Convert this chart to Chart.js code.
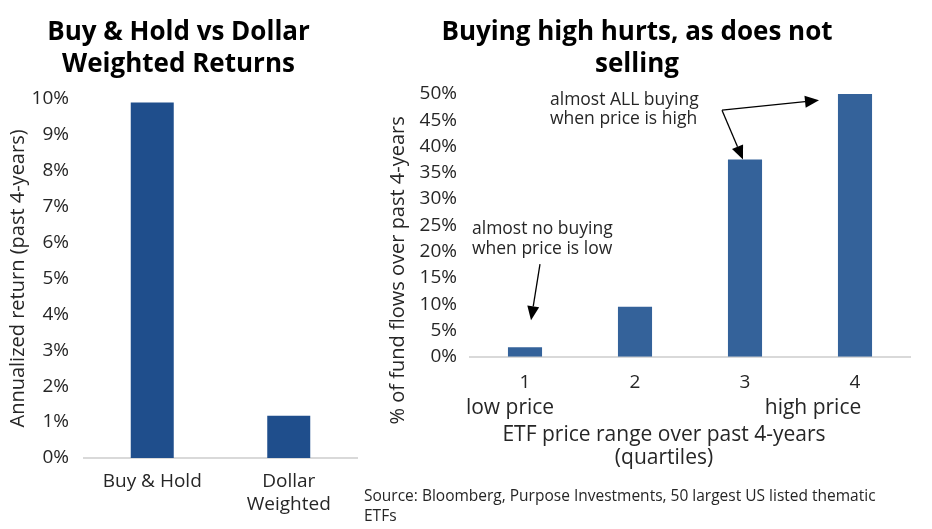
<!DOCTYPE html>
<html>
<head>
<meta charset="utf-8">
<script src="https://cdn.jsdelivr.net/npm/chart.js@4.4.1/dist/chart.umd.min.js"></script>
<style>
  body { margin: 0; background: #fff; }
  #left { position: absolute; left: 0; top: 0; width: 362px; height: 529px; }
  #right { position: absolute; left: 360px; top: 0; width: 572px; height: 529px; }
</style>
</head>
<body>
<div id="left"><canvas id="returnsChart"></canvas></div>
<div id="right"><canvas id="flowsChart"></canvas></div>
<script>
// ================= DATA =================
const returnLabels = [["Buy & Hold"], ["Dollar", "Weighted"]];
const returnValues = [9.9, 1.18];
const returnTicks = [0, 1, 2, 3, 4, 5, 6, 7, 8, 9, 10];

const quartileLabels = ["1", "2", "3", "4"];
const flowValues = [1.8, 9.5, 37.5, 50];
const flowTicks = [0, 5, 10, 15, 20, 25, 30, 35, 40, 45, 50];

const sourceLines = [
  "Source: Bloomberg, Purpose Investments, 50 largest US listed thematic",
  "ETFs"
];

Chart.defaults.font.family = "'Open Sans', sans-serif";
Chart.defaults.color = "#262626";

// ================= ARROWS =================
function drawArrow(ctx, x1, y1, x2, y2) {
  const a = Math.atan2(y2 - y1, x2 - x1);
  const head = 14, half = 6;
  const bx = x2 - head * Math.cos(a);
  const by = y2 - head * Math.sin(a);
  ctx.beginPath();
  ctx.moveTo(x1, y1);
  ctx.lineTo(bx, by);
  ctx.stroke();
  ctx.beginPath();
  ctx.moveTo(x2, y2);
  ctx.lineTo(bx + half * Math.sin(a), by - half * Math.cos(a));
  ctx.lineTo(bx - half * Math.sin(a), by + half * Math.cos(a));
  ctx.closePath();
  ctx.fill();
}

// notes, side labels and axis titles for the right chart
const flowNotes = {
  id: "flowNotes",
  afterDraw(chart) {
    const { ctx, chartArea } = chart;
    const x = chart.scales.x, y = chart.scales.y;
    ctx.save();
    ctx.fillStyle = "#262626";
    ctx.strokeStyle = "#000";
    ctx.lineWidth = 1.3;
    ctx.textBaseline = "middle";

    // y title
    ctx.save();
    ctx.translate(chartArea.left - 72, (chartArea.top + chartArea.bottom) / 2 + 45);
    ctx.rotate(-Math.PI / 2);
    ctx.font = "20px 'Open Sans'";
    ctx.textAlign = "center";
    ctx.fillText("% of fund flows over past 4-years", 0, 0);
    ctx.restore();

    // low / high price under the ticks, then the x title
    ctx.font = "21px 'Open Sans'";
    ctx.textAlign = "center";
    ctx.fillText("low price", x.getPixelForValue(0) - 15, chartArea.bottom + 51);
    ctx.fillText("high price", x.getPixelForValue(3) - 42, chartArea.bottom + 51);
    const titleX = (x.getPixelForValue(1) + x.getPixelForValue(2)) / 2 - 26;
    ctx.fillText("ETF price range over past 4-years", titleX, chartArea.bottom + 78);
    ctx.fillText("(quartiles)", titleX, chartArea.bottom + 101);

    // annotations
    ctx.font = "17.5px 'Open Sans'";
    ctx.textAlign = "left";
    const lowX = x.getPixelForValue(0) - 53;
    ctx.fillText("almost no buying", lowX, y.getPixelForValue(24.3));
    ctx.fillText("when price is low", lowX, y.getPixelForValue(20.5));
    const highX = x.getPixelForValue(1) - 85;
    ctx.fillText("almost ALL buying", highX, y.getPixelForValue(48.8));
    ctx.fillText("when price is high", highX, y.getPixelForValue(45.2));

    ctx.fillStyle = "#000";
    drawArrow(ctx, x.getPixelForValue(0) + 15, y.getPixelForValue(17.6),
      x.getPixelForValue(0) + 6, y.getPixelForValue(flowValues[0]) - 27);
    const vx = x.getPixelForValue(2) - 23, vy = y.getPixelForValue(46.9);
    drawArrow(ctx, vx, vy, x.getPixelForValue(2) - 2, y.getPixelForValue(flowValues[2]));
    drawArrow(ctx, vx, vy, x.getPixelForValue(3) - 36, y.getPixelForValue(48.8));
    ctx.restore();
  }
};

// ================= LEFT CHART =================
new Chart(document.getElementById("returnsChart"), {
  type: "bar",
  data: {
    labels: returnLabels,
    datasets: [{
      data: returnValues,
      backgroundColor: "#1f4e8c",
      barPercentage: 0.315,
      categoryPercentage: 1
    }]
  },
  options: {
    responsive: true,
    maintainAspectRatio: false,
    animation: false,
    layout: { padding: { left: 0, right: 5, top: 0, bottom: 0 } },
    plugins: {
      legend: { display: false },
      tooltip: { enabled: false },
      title: {
        display: true,
        text: ["Buy & Hold vs Dollar", "Weighted Returns"],
        color: "#000",
        font: { size: 26, weight: "bold", lineHeight: 1.21 },
        padding: { top: 17, bottom: 19 }
      }
    },
    scales: {
      x: {
        grid: { display: false, drawTicks: false },
        border: { color: "#d9d9d9", width: 2 },
        ticks: { font: { size: 19, lineHeight: 1.21 }, padding: 12 },
        afterFit: s => { s.height = 71; }
      },
      y: {
        min: 0,
        max: 10,
        afterBuildTicks: s => { s.ticks = returnTicks.map(v => ({ value: v })); },
        ticks: { callback: v => v + "%", font: { size: 19 }, padding: 15 },
        grid: { display: false, drawTicks: false },
        border: { display: false },
        title: {
          display: true,
          text: "Annualized return (past 4-years)",
          font: { size: 20 },
          padding: { top: 6, bottom: 0 }
        },
        afterFit: s => { s.width = 84; }
      }
    }
  }
});

// ================= RIGHT CHART =================
new Chart(document.getElementById("flowsChart"), {
  type: "bar",
  data: {
    labels: quartileLabels,
    datasets: [{
      data: flowValues,
      backgroundColor: "#34629a",
      barPercentage: 0.31,
      categoryPercentage: 1
    }]
  },
  options: {
    responsive: true,
    maintainAspectRatio: false,
    animation: false,
    layout: { padding: { left: 4, right: 22, top: 0, bottom: 0 } },
    plugins: {
      legend: { display: false },
      tooltip: { enabled: false },
      title: {
        display: true,
        text: ["Buying high hurts, as does not", "selling"],
        color: "#000",
        font: { size: 26, weight: "bold", lineHeight: 1.21 },
        padding: { top: 17, bottom: 14 }
      },
      subtitle: {
        display: true,
        position: "bottom",
        align: "start",
        text: sourceLines,
        color: "#262626",
        font: { size: 15.5, lineHeight: 1.3 },
        padding: { top: 6, bottom: 2 }
      }
    },
    scales: {
      x: {
        grid: { display: false, drawTicks: false },
        border: { color: "#d9d9d9", width: 2 },
        ticks: { font: { size: 19 }, padding: 14 },
        afterFit: s => { s.height = 124; }
      },
      y: {
        min: 0,
        max: 50,
        afterBuildTicks: s => { s.ticks = flowTicks.map(v => ({ value: v })); },
        ticks: { callback: v => v + "%", font: { size: 19 }, padding: 13 },
        grid: { display: false, drawTicks: false },
        border: { display: false },
        afterFit: s => { s.width = 106; }
      }
    }
  },
  plugins: [flowNotes]
});
</script>
</body>
</html>
